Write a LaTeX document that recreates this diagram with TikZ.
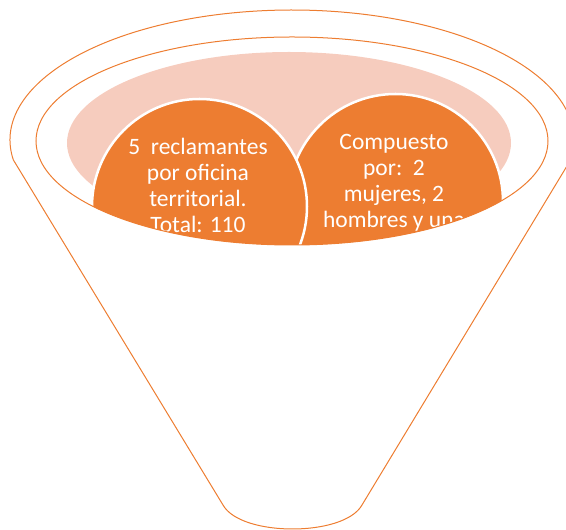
\documentclass[tikz,border=0pt]{standalone}
\usepackage{fontspec}
\newfontfamily\carlitofont{Carlito}
\definecolor{funnelorange}{HTML}{ED7D31}
\definecolor{funnelpink}{RGB}{246,204,190}
\tikzset{
  funnelline/.style={draw=funnelorange, line width=1pt},
  bubble/.style={circle, fill=funnelorange, draw=white, line width=2.5pt, minimum size=215pt, inner sep=0pt},
  bubbletext/.style={text=white, font=\carlitofont\fontsize{23.5pt}{26pt}\selectfont, align=center, inner sep=0pt, anchor=north}
}
\begin{document}
\begin{tikzpicture}[x=1pt,y=1pt]
\useasboundingbox (0,0) rectangle (566,530);
\clip (0,0) rectangle (566,530);
% funnel outline
\draw[funnelline] (292,390) ++(188.8:282 and 130)
  arc[start angle=188.8, end angle=-8.8, x radius=282, y radius=130]
  -- (362,25) .. controls (353,9) and (323,1) .. (292.5,1)
  .. controls (262,1) and (232,9) .. (223,25) -- cycle;
\begin{scope}
  \clip (292,389) ellipse [x radius=256, y radius=104];
  \fill[funnelpink] (289,387) ellipse [x radius=222, y radius=91];
  \node[bubble] (right) at (395.5,328.5) {};
  \node[bubble] (left) at (199.5,323.5) {};
  \node[bubbletext] (lefttext) at (198,392) {5~~reclamantes\\por oficina\\territorial.\\Total: 110};
  \node[bubbletext] (righttext) at (394,396) {Compuesto\\por:~~2\\mujeres, 2\\hombres y una};
\end{scope}
\draw[funnelline] (292,389) ellipse [x radius=256, y radius=104];
\end{tikzpicture}
\end{document}
